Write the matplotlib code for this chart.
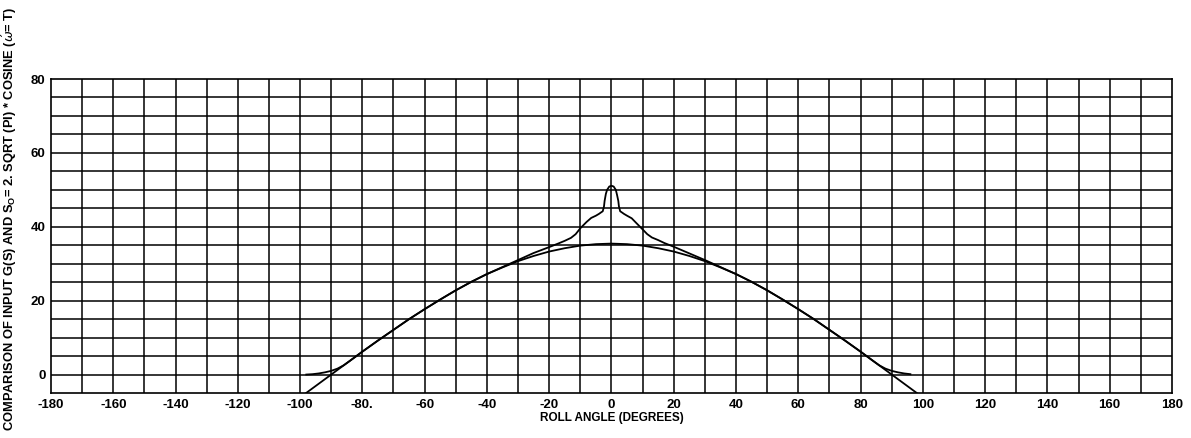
import matplotlib
matplotlib.use("Agg")
import matplotlib.pyplot as plt

# roll angle (deg) and S_o = 2 sqrt(pi) cosine curve
cos_x = [-100, -95, -90, -85, -80, -75, -70, -65, -60, -55, -50, -45, -40, -35,
         -30, -25, -20, -15, -10, -5, 0, 5, 10, 15, 20, 25, 30, 35, 40, 45,
         50, 55, 60, 65, 70, 75, 80, 85, 90, 95, 100]
cos_y = [-6.2, -3.1, 0.0, 3.1, 6.2, 9.2, 12.1, 15.0, 17.7, 20.3, 22.8, 25.1,
         27.2, 29.0, 30.7, 32.1, 33.3, 34.2, 34.9, 35.3, 35.45, 35.3, 34.9,
         34.2, 33.3, 32.1, 30.7, 29.0, 27.2, 25.1, 22.8, 20.3, 17.7, 15.0,
         12.1, 9.2, 6.2, 3.1, 0.0, -3.1, -6.2]

# input G(S)
g_x = [-98, -96, -94, -92, -90, -88, -86, -84, -80, -75, -70, -65, -60, -55,
       -50, -45, -40, -35, -30, -25, -20, -17, -15, -13, -11.5, -10, -8, -6.5,
       -5, -4, -3.5, -2.8, -2.4, -2.2, -1.8, -1.4, -0.7, 0, 0.7, 1.4, 1.8,
       2.2, 2.4, 2.8, 3.5, 4, 5, 6.5, 8, 10, 11.5, 13, 15, 17, 20, 25, 30,
       35, 40, 45, 50, 55, 60, 65, 70, 75, 80, 84, 86, 88, 90, 92, 94, 96]
g_y = [0.0, 0.1, 0.3, 0.6, 1.0, 1.6, 2.5, 3.7, 6.2, 9.2, 12.1, 15.0, 17.7,
       20.3, 22.8, 25.1, 27.2, 29.1, 31.0, 32.9, 34.5, 35.5, 36.2, 37.0,
       38.0, 39.6, 41.3, 42.4, 43.0, 43.5, 43.8, 44.2, 45.5, 47.0, 48.9,
       50.0, 50.9, 51.1, 50.9, 50.0, 48.6, 47.0, 45.5, 44.2, 43.8, 43.5,
       43.0, 42.3, 41.0, 39.3, 38.0, 37.1, 36.4, 35.6, 34.6, 32.8, 31.0,
       29.1, 27.2, 25.1, 22.8, 20.3, 17.7, 15.0, 12.1, 9.2, 6.2, 3.7, 2.5,
       1.6, 1.0, 0.6, 0.3, 0.1]

x_ticks = [-180, -160, -140, -120, -100, -80, -60, -40, -20, 0, 20, 40, 60,
           80, 100, 120, 140, 160, 180]
x_labels = ["-180", "-160", "-140", "-120", "-100", "-80.", "-60", "-40",
            "-20", "0", "20", "40", "60", "80", "100", "120", "140", "160",
            "180"]
y_ticks = [0, 20, 40, 60, 80]

plt.rcParams['font.family'] = ['Liberation Sans', 'DejaVu Sans']

fig = plt.figure(figsize=(11.91, 4.38), dpi=100)
ax = fig.add_axes([0.0428, 0.1027, 0.9412, 0.7169])

# grid: every 10 deg and every 5 units
for gx in range(-170, 180, 10):
    ax.axvline(gx, color='black', lw=1.1, zorder=1)
for gy in range(0, 80, 5):
    ax.axhline(gy, color='black', lw=1.1, zorder=1)

ax.plot(cos_x, cos_y, color='black', lw=1.3, zorder=3)
ax.plot(g_x, g_y, color='black', lw=1.3, zorder=3)

ax.set_xlim(-180, 180)
ax.set_ylim(-5, 80)
ax.set_xticks(x_ticks)
ax.set_xticklabels(x_labels)
ax.set_yticks(y_ticks)
ax.tick_params(length=0, pad=4, labelsize=9.5)
for lab in ax.get_xticklabels() + ax.get_yticklabels():
    lab.set_fontweight('bold')
for s in ax.spines.values():
    s.set_linewidth(1.2)

ax.set_xlabel("ROLL ANGLE (DEGREES)", fontsize=8.5, fontweight='bold', labelpad=1)
fig.text(0.008, 0.5,
         r"COMPARISON OF INPUT G(S) AND S$_\mathregular{O}$= 2. SQRT (PI) * COSINE ($\acute{\omega}$= T)",
         rotation=90, ha='center', va='center', fontsize=9.3, fontweight='bold')

fig.savefig("out.png", dpi=100)
